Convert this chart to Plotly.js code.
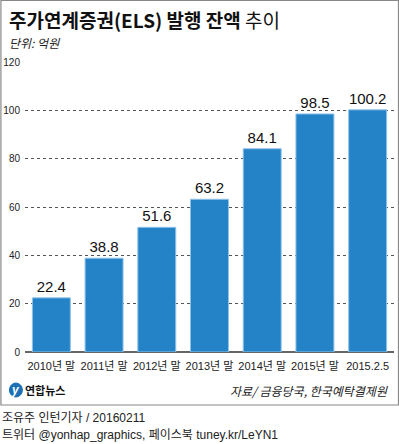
<!DOCTYPE html>
<html><head><meta charset="utf-8">
<script src="https://cdn.plot.ly/plotly-3.0.1.min.js"></script>
<style>body{margin:0;padding:0;background:#fff}#chart{width:399px;height:444px}</style>
</head><body><div id="chart"></div>
<script>
const categories = ['2010년 말','2011년 말','2012년 말','2013년 말','2014년 말','2015년 말','2015.2.5'];
const values = [22.4, 38.8, 51.6, 63.2, 84.1, 98.5, 100.2];
const valueLabels = ['22.4','38.8','51.6','63.2','84.1','98.5','100.2'];
const yTicks = [0, 20, 40, 60, 80, 100, 120];

const L = 24.6, R = 394, T = 62, B = 352;
const px = x => (x - L) / (R - L);
const py = y => (B - y) / (B - T);
const FONT = 'Liberation Sans, Noto Sans CJK KR, sans-serif';

const trace = {
  type: 'bar', x: categories, y: values,
  text: valueLabels, textposition: 'outside', cliponaxis: false,
  textfont: {family: FONT, size: 15, color: '#111'},
  marker: {color: '#2383c6', line: {color: '#8fc3ea', width: 1}},
  hoverinfo: 'none'
};

const layout = {
  width: 399, height: 444,
  margin: {l: L, r: 399 - R, t: T, b: 444 - B, pad: 0},
  paper_bgcolor: '#fff', plot_bgcolor: '#fff',
  showlegend: false, bargap: 0.28,
  font: {family: FONT},
  xaxis: {
    type: 'category', showgrid: false, zeroline: false, showline: false, tickangle: 0, automargin: false,
    ticks: '', tickfont: {family: FONT, size: 11, color: '#222'}, ticklabelstandoff: 6
  },
  yaxis: {
    range: [0, 120], tickvals: yTicks, ticktext: yTicks.map(String), automargin: false,
    showgrid: true, gridcolor: '#555', griddash: 'dot', gridwidth: 1,
    zeroline: true, zerolinecolor: '#666', zerolinewidth: 1.5,
    showline: false, ticks: '', tickfont: {family: FONT, size: 10, color: '#222'},
    ticklabelstandoff: 4
  },
  shapes: [
    {type: 'rect', xref: 'paper', yref: 'paper', x0: px(0.5), x1: px(398.5), y0: py(405), y1: py(0.5),
     line: {color: '#888', width: 1.2}, fillcolor: 'rgba(0,0,0,0)', layer: 'below'},
    {type: 'circle', xref: 'paper', yref: 'paper', x0: px(9), x1: px(22), y0: py(397), y1: py(383),
     line: {color: '#1a6fb5', width: 1}, fillcolor: '#1a6fb5'}
  ],
  annotations: [
    {xref: 'paper', yref: 'paper', x: px(7), y: py(20), xanchor: 'left', yanchor: 'middle', showarrow: false,
     text: '<b>주가연계증권(ELS) 발행 잔액</b> 추이', font: {family: 'Noto Sans CJK KR', size: 19, color: '#111'}},
    {xref: 'paper', yref: 'paper', x: px(7), y: py(43), xanchor: 'left', yanchor: 'middle', showarrow: false,
     text: '<i>단위: 억원</i>', font: {family: 'Noto Sans CJK KR', size: 12, color: '#222'}},
    {xref: 'paper', yref: 'paper', x: px(15.5), y: py(390), xanchor: 'center', yanchor: 'middle', showarrow: false,
     text: '<b><i>y</i></b>', font: {family: FONT, size: 12, color: '#fff'}},
    {xref: 'paper', yref: 'paper', x: px(23), y: py(390), xanchor: 'left', yanchor: 'middle', showarrow: false,
     text: '<b>연합뉴스</b>', font: {family: 'Noto Sans CJK KR', size: 11, color: '#111'}},
    {xref: 'paper', yref: 'paper', x: px(390), y: py(390), xanchor: 'right', yanchor: 'middle', showarrow: false,
     text: '<i>자료/ 금융당국, 한국예탁결제원</i>', font: {family: 'Noto Sans CJK KR', size: 12, color: '#222'}},
    {xref: 'paper', yref: 'paper', x: px(0), y: py(418), xanchor: 'left', yanchor: 'middle', showarrow: false,
     text: '조유주 인턴기자 / 20160211', font: {family: FONT, size: 12, color: '#222'}},
    {xref: 'paper', yref: 'paper', x: px(0), y: py(435), xanchor: 'left', yanchor: 'middle', showarrow: false,
     text: '트위터 @yonhap_graphics, 페이스북 tuney.kr/LeYN1', font: {family: FONT, size: 12, color: '#222'}}
  ]
};

Plotly.newPlot('chart', [trace], layout, {displayModeBar: false, staticPlot: true});
</script></body></html>
